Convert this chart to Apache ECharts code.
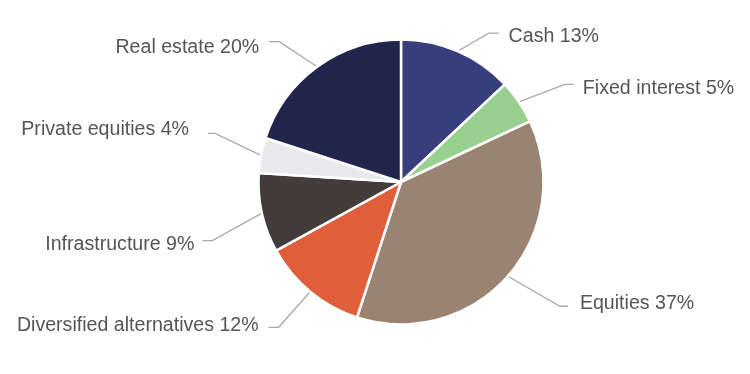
<!DOCTYPE html>
<html>
<head>
<meta charset="utf-8">
<script src="https://cdn.jsdelivr.net/npm/echarts@6/dist/echarts.min.js"></script>
<style>
html,body{margin:0;padding:0;background:#fff;}
#chart{width:750px;height:374px;}
</style>
</head>
<body>
<div id="chart"></div>
<script>
// Data
const categories = ['Cash', 'Fixed interest', 'Equities', 'Diversified alternatives', 'Infrastructure', 'Private equities', 'Real estate'];
const values = [13, 5, 37, 12, 9, 4, 20];

// Styles
const colors = ['#373e7b', '#98d08f', '#9b8372', '#e05e3a', '#433c3c', '#e9e9ed', '#20264b'];
// label connector bend offset from slice edge point, tail length, text gap, text vertical nudge
const labelBend = [[31, -18], [46, -17.5], [52, 30], [-31.5, 35.5], [-49.5, 27.5], [-46, -22], [-38, -25]];
const labelTail = [10, 9, 8, 10, 10, 7, 10];
const labelGap = [10, 9, 12, 10, 8, 19, 10];
const labelDy = [3.5, 4, -3, -2, 4, -4, 5.5];

const chart = echarts.init(document.getElementById('chart'), null, {renderer: 'canvas'});
const option = {
  animation: false,
  backgroundColor: '#ffffff',
  series: [{
    type: 'pie',
    center: [401, 182],
    radius: 142.5,
    startAngle: 90,
    clockwise: true,
    silent: true,
    data: categories.map((c, i) => ({name: c, value: values[i], itemStyle: {color: colors[i]}})),
    itemStyle: {borderColor: '#ffffff', borderWidth: 2.5},
    label: {
      show: true,
      formatter: '{b} {c}%',
      color: '#555555',
      fontFamily: 'Liberation Sans, Arial, sans-serif',
      fontSize: 19.6
    },
    labelLine: {
      show: true,
      length: 20,
      length2: 10,
      lineStyle: {color: '#a8a8a8', width: 1.3}
    },
    labelLayout: function (params) {
      const i = params.dataIndex;
      const pts = params.labelLinePoints;
      if (!pts) return {};
      const p0 = pts[0];
      const b = labelBend[i];
      const p1 = [p0[0] + b[0], p0[1] + b[1]];
      const isLeft = b[0] < 0;
      const p2 = [p1[0] + (isLeft ? -labelTail[i] : labelTail[i]), p1[1]];
      return {
        x: p2[0] + (isLeft ? -labelGap[i] : labelGap[i]),
        y: p2[1] + labelDy[i],
        align: isLeft ? 'right' : 'left',
        verticalAlign: 'middle',
        labelLinePoints: [p0, p1, p2]
      };
    }
  }]
};
chart.setOption(option);
</script>
</body>
</html>
